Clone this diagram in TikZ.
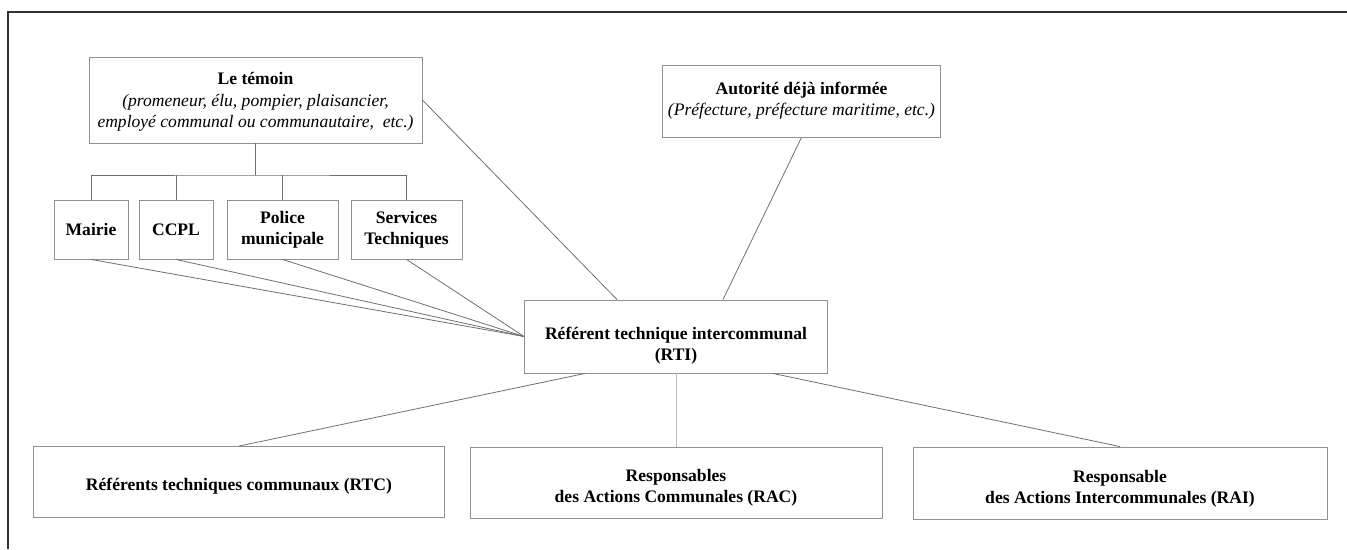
\documentclass[tikz,border=0pt]{standalone}
\usepackage{fontspec}
\setmainfont{Liberation Serif}
\usepackage{tikz}
\usetikzlibrary{positioning,calc}
\definecolor{boxgray}{RGB}{145,145,145}
\definecolor{linkgray}{RGB}{110,110,110}
\definecolor{framegray}{RGB}{50,50,50}

\begin{document}
\begin{tikzpicture}[
    x=0.02cm, y=-0.02cm,
    box/.style={rectangle, draw=boxgray, line width=0.5pt, align=center, inner sep=2pt},
    link/.style={draw=linkgray, line width=0.45pt},
    hint/.style={font=\itshape}
]
    \useasboundingbox (0,0) rectangle (1347,549);
    \draw[framegray, line width=0.9pt] (8,549) -- (8,12) -- (1347,12);

    % witness and alert channels
    \node[box, minimum width=333*0.02cm, minimum height=86*0.02cm] (temoin) at (255.5,100)
        {\rule{0pt}{9pt}\textbf{Le témoin}\\{\itshape(promeneur, élu, pompier, plaisancier,}\\{\itshape employé communal ou communautaire,\ \ etc.)}};
    \node[box, minimum width=74*0.02cm, minimum height=59*0.02cm, font=\bfseries] (mairie) at (91,229.5) {Mairie};
    \node[box, minimum width=74*0.02cm, minimum height=59*0.02cm, font=\bfseries] (ccpl) at (176,229.5) {CCPL};
    \node[box, minimum width=111*0.02cm, minimum height=59*0.02cm, font=\bfseries] (police) at (282.5,229.5) {Police\\municipale};
    \node[box, minimum width=111*0.02cm, minimum height=59*0.02cm, font=\bfseries] (services) at (406.5,229.5) {Services\\Techniques};
    \coordinate (bar) at (255.5,175);
    \draw[link] (temoin.south) -- (bar);
    \draw[link] (mairie.north) |- (bar) -| (services.north);
    \foreach \n in {ccpl,police}
        \draw[link] (\n.north) -- (\n.north |- bar);

    % authority
    \node[box, minimum width=278*0.02cm, minimum height=72*0.02cm] (autorite) at (801.5,101)
        {\textbf{Autorité déjà informée}\\{\itshape(Préfecture, préfecture maritime, etc.)}};

    % intercommunal referent
    \node[box, minimum width=303*0.02cm, minimum height=73*0.02cm, font=\bfseries] (rti) at (676,336.5)
        {\rule{0pt}{18pt}Référent technique intercommunal\\(RTI)};
    \foreach \n in {mairie,ccpl,police,services}
        \draw[link] (\n.south) -- (rti.west);
    \draw[link] (temoin.east) -- ($(rti.north)+(-59,0)$);
    \draw[link] (autorite.south) -- ($(rti.north)+(47,0)$);

    % bottom row
    \node[box, minimum width=411*0.02cm, minimum height=71*0.02cm, font=\bfseries] (rtc) at (239,482)
        {\rule{0pt}{12pt}Référents techniques communaux (RTC)};
    \node[box, minimum width=412*0.02cm, minimum height=71*0.02cm, font=\bfseries] (rac) at (676,482.5)
        {\rule{0pt}{13pt}Responsables\\des Actions Communales (RAC)};
    \node[box, minimum width=414*0.02cm, minimum height=72*0.02cm, font=\bfseries] (rai) at (1120,483)
        {\rule{0pt}{13pt}Responsable\\des Actions Intercommunales (RAI)};
    \draw[link] ($(rti.south)+(-91,0)$) -- (rtc.north);
    \draw[link, draw=black!25] (rti.south) -- (rac.north);
    \draw[link] ($(rti.south)+(97,0)$) -- (rai.north);
\end{tikzpicture}
\end{document}
